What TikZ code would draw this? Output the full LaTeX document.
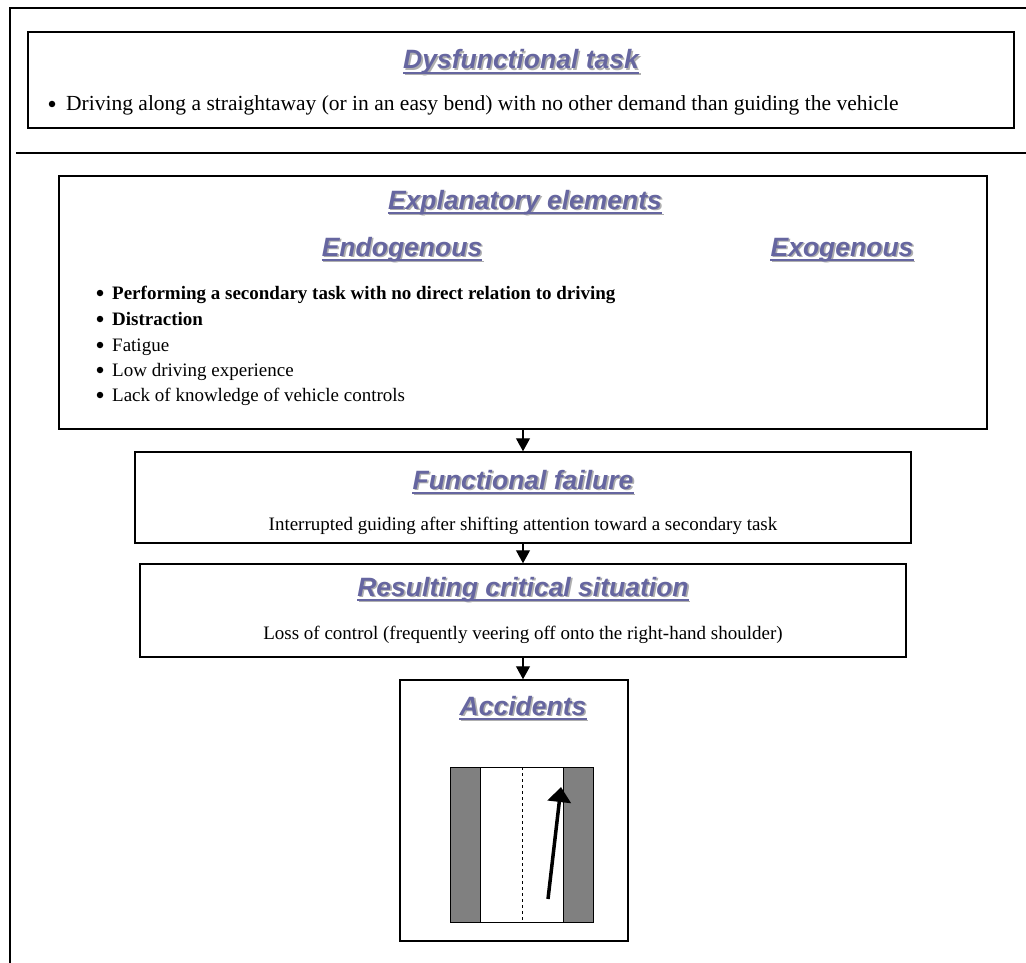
\documentclass[tikz,border=0pt]{standalone}
\usepackage{fontspec}
\setmainfont{Liberation Serif}
\newfontfamily\headfam{Liberation Sans}
\usepackage{tikz}
\usetikzlibrary{arrows.meta,positioning}

\definecolor{headblue}{RGB}{102,102,160}
\definecolor{headshade}{RGB}{175,175,175}
\definecolor{shoulder}{RGB}{128,128,128}

\tikzset{
  frame/.style={draw=black, line width=1.5pt},
  box/.style={draw=black, line width=1.5pt, inner sep=0pt},
  heading/.style={font=\headfam\bfseries\itshape\fontsize{26.5}{30}\selectfont,
    text=headblue, inner sep=0pt, anchor=base},
  body/.style={font=\fontsize{19}{22}\selectfont, inner sep=0pt, anchor=base},
  dot/.style={circle, fill=black, inner sep=0pt, minimum size=6.5pt},
  flow/.style={line width=1.2pt, -{Triangle[width=14pt,length=13pt]}}
}

% heading with grey shadow and underline (#2 = baseline point)
\newcommand{\heading}[3]{%
  \node[heading, text=headshade] (#1s) at ([xshift=1.6pt,yshift=-1.6pt]#2) {#3};
  \draw[headshade, line width=1.8pt]
    ([yshift=-3.8pt]#1s.base west) -- ([yshift=-3.8pt]#1s.base east);
  \node[heading] (#1) at (#2) {#3};
  \draw[headblue, line width=1.8pt]
    ([yshift=-3.8pt]#1.base west) -- ([yshift=-3.8pt]#1.base east);
}

\begin{document}
\begin{tikzpicture}[x=1pt, y=-1pt]
  \useasboundingbox (0,0) rectangle (1026,963);

  % === Outer frame ===
  \draw[frame] (1026,8) -- (10,8) -- (10,963);
  \draw[frame] (16,153) -- (1026,153);

  % === Dysfunctional task ===
  \node[box, minimum width=986pt, minimum height=96pt] (dysf) at (521,80) {};
  \heading{dysfT}{521,69}{Dysfunctional task}
  \node[dot] (dysfB) at (52,104) {};
  \node[body, anchor=base west, font=\fontsize{21.5}{24}\selectfont] (dysfL) at (66,111)
    {Driving along a straightaway (or in an easy bend) with no other demand than guiding the vehicle};

  % === Explanatory elements ===
  \node[box, minimum width=928pt, minimum height=253pt] (expl) at (523,302.5) {};
  \heading{explT}{525,209}{Explanatory elements}
  \heading{endoT}{402,256}{Endogenous}
  \heading{exoT}{842,256}{Exogenous}
  \foreach \y/\txt [count=\i] in {
    299/\textbf{Performing a secondary task with no direct relation to driving},
    325/\textbf{Distraction},
    351/Fatigue,
    376/Low driving experience,
    401/Lack of knowledge of vehicle controls} {
    \node[dot] (dot\i) at (100,\y-6) {};
    \node[body, anchor=base west] (item\i) at (112,\y) {\txt};
  }

  % === Functional failure ===
  \node[box, minimum width=776pt, minimum height=91pt] (func) at (523,497.5) {};
  \heading{funcT}{523,489}{Functional failure}
  \node[body] (funcL) at (523,530)
    {Interrupted guiding after shifting attention toward a secondary task};

  % === Resulting critical situation ===
  \node[box, minimum width=766pt, minimum height=93pt] (crit) at (523,610.5) {};
  \heading{critT}{523,596}{Resulting critical situation}
  \node[body] (critL) at (523,639)
    {Loss of control (frequently veering off onto the right-hand shoulder)};

  % === Accidents ===
  \node[box, minimum width=228pt, minimum height=261pt] (acc) at (514,810.5) {};
  \heading{accT}{523,715}{Accidents}

  % road sketch
  \fill[shoulder] (450,767) rectangle (480,922);
  \fill[shoulder] (563,767) rectangle (593,922);
  \draw[line width=1pt] (450,767) rectangle (593,922);
  \draw[line width=1pt] (480,767) -- (480,922);
  \draw[line width=1pt] (563,767) -- (563,922);
  \draw[line width=0.8pt, dashed] (522,767) -- (522,922);
  \coordinate (carS) at (548,899);
  \coordinate (carE) at (561,787);
  \draw[line width=3.5pt, -{Triangle[width=23pt,length=15pt]}] (carS) -- (carE);

  % === Flow arrows ===
  \draw[flow] (expl.south -| func.north) -- (func.north);
  \draw[flow] (func.south) -- (crit.north);
  \draw[flow] (crit.south) -- (crit.south |- acc.north);
\end{tikzpicture}
\end{document}
